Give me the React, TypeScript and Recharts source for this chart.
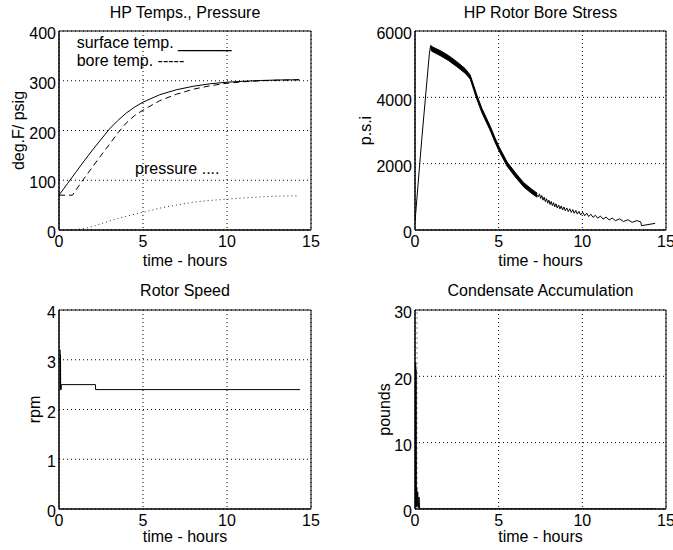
import React from 'react';
import { ComposedChart, Line, Area, XAxis, YAxis, CartesianGrid, ReferenceArea } from 'recharts';

const FONT = '"Liberation Sans", Arial, Helvetica, sans-serif';

// ---- shared axis ticks ----
const timeTicks = [0, 5, 10, 15];
const tempTicks = [0, 100, 200, 300, 400];
const stressTicks = [0, 2000, 4000, 6000];
const speedTicks = [0, 1, 2, 3, 4];
const condTicks = [0, 10, 20, 30];

// ---- HP Temps., Pressure ----
const surfaceTime = [0, 0.5, 1, 1.5, 2, 2.5, 3, 3.5, 4, 4.5, 5, 6, 7, 8, 9, 10, 11, 12, 13, 14.3];
const surfaceTemp = [70, 93, 116, 139, 161, 182, 203, 220, 235, 247, 257, 272, 282, 289, 294, 297, 299, 300.5, 301.5, 302];
const boreTime = [0, 0.8, 1, 1.5, 2, 2.5, 3, 3.5, 4, 4.5, 5, 6, 7, 8, 9, 10, 11, 12, 13, 14.3];
const boreTemp = [70, 70, 80, 104, 127, 150, 172, 195, 215, 230, 241, 260, 273, 283, 290, 295, 298, 300, 301, 302];
const pressureTime = [0, 0.5, 1, 1.5, 2, 2.5, 3, 3.5, 4, 5, 6, 7, 8, 9, 10, 11, 12, 13, 14.3];
const pressureValue = [0, 0.3, 1, 3, 7, 12.5, 18, 23, 27.5, 35.5, 44, 50, 56, 59.5, 62, 64.5, 66.5, 68, 69];

// ---- HP Rotor Bore Stress ----
const stressTime = [0, 0.4, 0.86, 0.93, 1.0, 1.5, 2.0, 2.5, 3.0, 3.3, 3.5, 3.7, 4.0, 4.5, 4.78, 5.0, 5.5, 6.0, 6.5, 7.0, 7.3,
  7.37, 7.44, 7.51, 7.58, 7.65, 7.72, 7.79, 7.86, 7.93, 8.00, 8.07, 8.14, 8.21, 8.28, 8.35, 8.42, 8.50, 8.58, 8.66, 8.74,
  8.82, 8.90, 8.98, 9.07, 9.16, 9.25, 9.34, 9.43, 9.52, 9.61, 9.70, 9.80, 9.90, 10.02, 10.14, 10.26, 10.38, 10.51, 10.64,
  10.78, 10.92, 11.08, 11.24, 11.42, 11.60, 11.79, 11.98, 12.22, 12.46, 12.72, 12.98, 13.26, 13.50, 13.53, 14.35];
const stressValue = [250, 2714, 5330, 5540, 5460, 5335, 5185, 5000, 4795, 4610, 4305, 4000, 3600, 3060, 2714, 2470, 1990, 1660, 1360, 1155, 1050,
  1000, 1090, 950, 1040, 900, 990, 855, 945, 810, 900, 770, 860, 735, 825, 700, 790, 665, 755, 635, 725,
  605, 695, 580, 665, 555, 640, 530, 615, 505, 590, 480, 560, 455, 535, 430, 505, 405, 475, 380,
  445, 355, 420, 330, 390, 305, 360, 280, 335, 255, 310, 230, 285, 240, 130, 200];
const bandTime = [0.93, 1.0, 1.5, 2.0, 2.5, 3.0, 3.3, 3.5, 3.7, 4.0, 4.5, 4.78, 5.0, 5.5, 6.0, 6.5, 7.0, 7.3];
const bandLow = [5470, 5390, 5260, 5110, 4925, 4725, 4550, 4240, 3935, 3535, 2995, 2650, 2405, 1925, 1595, 1295, 1090, 990];
const bandHigh = [5580, 5530, 5410, 5260, 5075, 4865, 4670, 4370, 4065, 3665, 3125, 2780, 2535, 2055, 1725, 1425, 1220, 1110];

// ---- Rotor Speed ----
const speedTime = [0.07, 0.08, 0.09, 0.1, 0.13, 0.14, 2.17, 2.18, 14.35];
const speedValue = [3.2, 2.4, 3.1, 2.4, 2.4, 2.5, 2.5, 2.4, 2.4];

// ---- Condensate Accumulation ----
const condTime = [0, 0.04, 0.05, 0.06, 0.08, 0.1, 0.13, 0.16, 0.2, 0.24, 0.28, 0.32, 14.35];
const condValue = [0, 22, 0.5, 21, 0.3, 3.2, 0.4, 2.6, 0.2, 1.8, 0.1, 0, 0];
const condTraceTime = [0.12, 0.12];
const condTraceValue = [0, 30];

const rows = (ts: number[], vs: number[]) => ts.map((t, i) => ({ t, v: vs[i] }));
const bandRows = bandTime.map((t, i) => ({ t, range: [bandLow[i], bandHigh[i]] }));

const tickStyleX = { fill: '#000', fontSize: 16, fontFamily: FONT };
const tickStyleY = { fill: '#000', fontSize: 16, fontFamily: FONT, dy: 2.5 };

type PanelProps = {
  left: number; top: number; width: number; height: number;
  mTop: number; mRight: number; yWidth: number; xHeight: number;
  yDomain: [number, number]; yTicks: number[]; children: React.ReactNode;
};

function Panel(p: PanelProps) {
  return (
    <div style={{ position: 'absolute', left: p.left, top: p.top, width: p.width, height: p.height }}>
      <ComposedChart width={p.width} height={p.height} margin={{ top: p.mTop, right: p.mRight, bottom: 0, left: 0 }}>
        <CartesianGrid stroke="#000" strokeDasharray="1 3" strokeWidth={1} />
        <XAxis dataKey="t" type="number" domain={[0, 15]} ticks={timeTicks} interval={0} allowDataOverflow
          height={p.xHeight} tickLine={false} tickSize={6} tickMargin={0} axisLine={{ stroke: '#000' }} tick={tickStyleX} />
        <YAxis type="number" domain={p.yDomain} ticks={p.yTicks} interval={0} allowDataOverflow
          width={p.yWidth} tickLine={false} tickSize={0} tickMargin={3} axisLine={{ stroke: '#000' }} tick={tickStyleY} />
        {p.children}
        <ReferenceArea x1={0} x2={15} y1={p.yDomain[0]} y2={p.yDomain[1]} fill="none" fillOpacity={0} stroke="#000" strokeWidth={1} ifOverflow="visible" />
      </ComposedChart>
    </div>
  );
}

export default function App() {
  return (
    <div style={{ position: 'absolute', left: 0, top: 0, width: 673, height: 550, background: '#fff', fontFamily: FONT }}>
      <Panel left={0} top={0} width={336} height={275} mTop={31} mRight={25} yWidth={59} xHeight={45} yDomain={[0, 400]} yTicks={tempTicks}>
        <Line data={rows(surfaceTime, surfaceTemp)} dataKey="v" type="linear" stroke="#000" strokeWidth={1} dot={false} isAnimationActive={false} />
        <Line data={rows(boreTime, boreTemp)} dataKey="v" type="linear" stroke="#000" strokeWidth={1} strokeDasharray="6 4" dot={false} isAnimationActive={false} />
        <Line data={rows(pressureTime, pressureValue)} dataKey="v" type="linear" stroke="#333" strokeWidth={1} strokeDasharray="1 3" dot={false} isAnimationActive={false} />
      </Panel>
      <Panel left={336} top={0} width={337} height={275} mTop={31} mRight={7} yWidth={79} xHeight={45} yDomain={[0, 6000]} yTicks={stressTicks}>
        <Area data={bandRows} dataKey="range" type="linear" stroke="#000" strokeWidth={1} fill="#000" fillOpacity={1} dot={false} activeDot={false} isAnimationActive={false} />
        <Line data={rows(stressTime, stressValue)} dataKey="v" type="linear" stroke="#000" strokeWidth={1} dot={false} isAnimationActive={false} />
      </Panel>
      <Panel left={0} top={275} width={336} height={275} mTop={35} mRight={25} yWidth={59} xHeight={41} yDomain={[0, 4]} yTicks={speedTicks}>
        <Line data={rows(speedTime, speedValue)} dataKey="v" type="linear" stroke="#000" strokeWidth={1} dot={false} isAnimationActive={false} />
      </Panel>
      <Panel left={336} top={275} width={337} height={275} mTop={35} mRight={7} yWidth={79} xHeight={41} yDomain={[0, 30]} yTicks={condTicks}>
        <Line data={rows(condTraceTime, condTraceValue)} dataKey="v" type="linear" stroke="#888" strokeWidth={1} strokeDasharray="2 3" dot={false} isAnimationActive={false} />
        <Line data={rows(condTime, condValue)} dataKey="v" type="linear" stroke="#000" strokeWidth={1} dot={false} isAnimationActive={false} />
      </Panel>
      <svg width={673} height={550} style={{ position: 'absolute', left: 0, top: 0, pointerEvents: 'none' }}
        fontFamily={FONT} fontSize={16} fill="#000">
        <text x={185} y={17.5} textAnchor="middle">HP Temps., Pressure</text>
        <text x={540.5} y={17.5} textAnchor="middle">HP Rotor Bore Stress</text>
        <text x={185} y={296} textAnchor="middle">Rotor Speed</text>
        <text x={540.5} y={296} textAnchor="middle">Condensate Accumulation</text>
        <text x={185} y={266} textAnchor="middle">time - hours</text>
        <text x={540.5} y={266} textAnchor="middle">time - hours</text>
        <text x={185} y={542} textAnchor="middle">time - hours</text>
        <text x={540.5} y={542} textAnchor="middle">time - hours</text>
        <text x={23.5} y={130.5} textAnchor="middle" transform="rotate(-90 23.5 130.5)">deg.F/ psig</text>
        <text x={371.3} y={130.5} textAnchor="middle" transform="rotate(-90 371.3 130.5)">p.s.i</text>
        <text x={40} y={409.5} textAnchor="middle" transform="rotate(-90 40 409.5)">rpm</text>
        <text x={389.6} y={409.5} textAnchor="middle" transform="rotate(-90 389.6 409.5)">pounds</text>
        <text x={76.7} y={48.3}>surface temp. ______</text>
        <text x={76.7} y={66}>bore temp. -----</text>
        <text x={135} y={174}>pressure ....</text>
      </svg>
    </div>
  );
}
